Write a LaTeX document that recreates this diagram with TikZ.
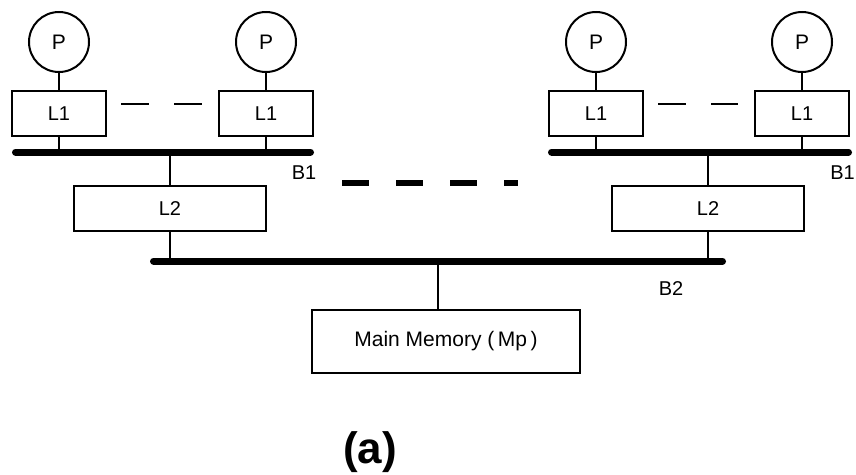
\documentclass[tikz,border=0pt]{standalone}
\usepackage{fontspec}
\setmainfont{Liberation Sans}
\usetikzlibrary{positioning}

\begin{document}
\begin{tikzpicture}[x=1pt, y=-1pt, node distance=17pt,
    every node/.style={inner sep=0pt, font=\fontsize{20}{23}\selectfont},
    cache/.style={draw, line width=2pt, minimum width=94pt, minimum height=45pt},
    proc/.style={draw, circle, line width=2pt, minimum size=60pt, font=\fontsize{21}{23}\selectfont},
    link/.style={line width=2pt},
    bus/.style={line width=7pt, line cap=round},
    gap/.style={line width=2pt, dash pattern=on 28pt off 25pt},
    buslabel/.style={font=\fontsize{20}{23}\selectfont}]
    \useasboundingbox (0,0) rectangle (856,474);
    % Nodes
    \node[cache] (l1a) at (59,113.5) {L1};
    \node[cache] (l1b) at (266,113.5) {L1};
    \node[cache] (l1c) at (596,113.5) {L1};
    \node[cache] (l1d) at (802,113.5) {L1};
    \node[proc, above=of l1a] (pa) {P};
    \node[proc, above=of l1b] (pb) {P};
    \node[proc, above=of l1c] (pc) {P};
    \node[proc, above=of l1d] (pd) {P};
    \node[cache, minimum width=192pt] (l2a) at (170,208.5) {L2};
    \node[cache, minimum width=192pt] (l2b) at (708,208.5) {L2};
    \node[cache, minimum width=268pt, minimum height=63pt, font=\fontsize{21}{24}\selectfont] (mm) at (446,341.5) {Main Memory (\,Mp\,)};
    \node[buslabel] (b1a-lbl) at (304,173) {B1};
    \node[buslabel, anchor=east] (b1b-lbl) at (855,173) {B1};
    \node[buslabel] (b2-lbl) at (671,289) {B2};
    \node[font=\fontsize{44}{48}\selectfont\bfseries] (cap) at (370,452) {(a)};

    % Buses
    \coordinate (b1a-w) at (15.5,152);
    \coordinate (b1a-e) at (310.5,152);
    \coordinate (b1b-w) at (551.5,152);
    \coordinate (b1b-e) at (848.5,152);
    \coordinate (b2-w) at (153.5,261);
    \coordinate (b2-e) at (722.5,261);
    \coordinate (mm-tap) at (438,261);
    \draw[bus] (b1a-w) -- (b1a-e);
    \draw[bus] (b1b-w) -- (b1b-e);
    \draw[bus] (b2-w) -- (b2-e);

    % Links
    \foreach \p/\c in {pa/l1a, pb/l1b, pc/l1c, pd/l1d} {
        \draw[link] (\p) -- (\c);
    }
    \foreach \c in {l1a, l1b} \draw[link] (\c) -- (\c |- b1a-w);
    \foreach \c in {l1c, l1d} \draw[link] (\c) -- (\c |- b1b-w);
    \draw[link] (l2a) -- (l2a |- b1a-w);
    \draw[link] (l2b) -- (l2b |- b1b-w);
    \draw[link] (l2a) -- (l2a |- b2-w);
    \draw[link] (l2b) -- (l2b |- b2-w);
    \draw[link] (mm-tap) -- (mm-tap |- mm.north);

    % Dots between caches and groups
    \draw[gap] ([shift={(14,-9.5)}]l1a.east) -- ([shift={(-16,-9.5)}]l1b.west);
    \draw[gap] ([shift={(14,-9.5)}]l1c.east) -- ([shift={(-16,-9.5)}]l1d.west);
    \draw[line width=6.5pt, dash pattern=on 27pt off 27pt] (342,183) -- (518,183);
\end{tikzpicture}
\end{document}
